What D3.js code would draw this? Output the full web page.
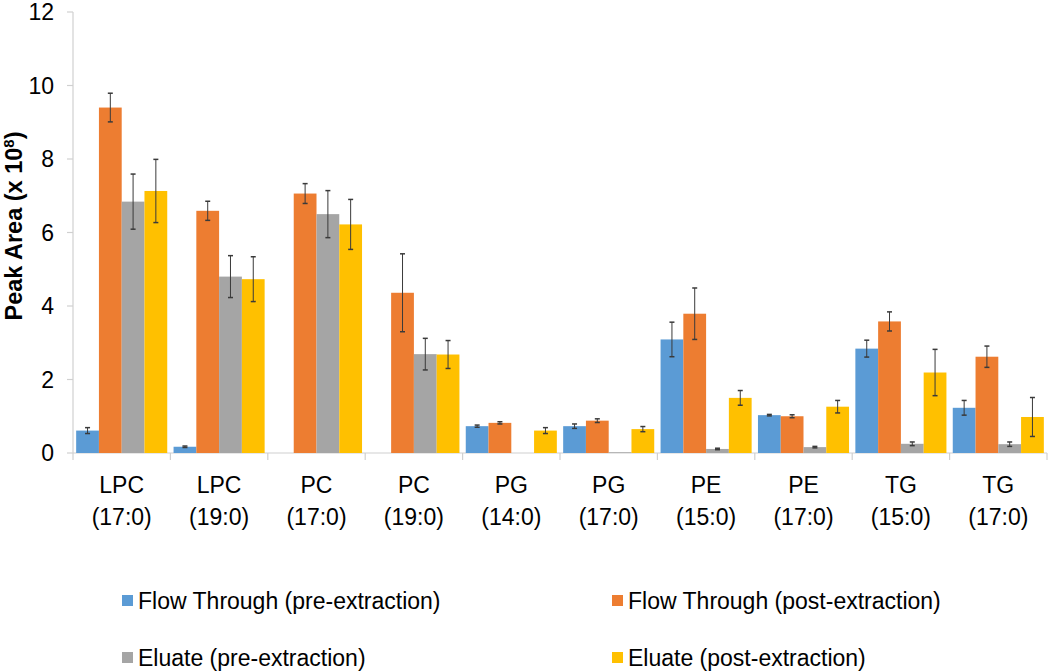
<!DOCTYPE html>
<html><head><meta charset="utf-8">
<script src="https://cdn.jsdelivr.net/npm/d3@7/dist/d3.min.js"></script>
<style>body{margin:0;background:#fff}svg{display:block}text{font-family:"Liberation Sans",Arial,sans-serif}</style>
</head><body><svg id="c" width="1050" height="672"></svg>
<script>
const categories = [["LPC","(17:0)"],["LPC","(19:0)"],["PC","(17:0)"],["PC","(19:0)"],["PG","(14:0)"],["PG","(17:0)"],["PE","(15:0)"],["PE","(17:0)"],["TG","(15:0)"],["TG","(17:0)"]];
const seriesNames = ["Flow Through (pre-extraction)","Flow Through (post-extraction)","Eluate (pre-extraction)","Eluate (post-extraction)"];
const seriesColors = ["#5B9BD5","#ED7D31","#A5A5A5","#FFC000"];
const flowPre    = [0.61,0.17,0,0,0.73,0.73,3.09,1.03,2.84,1.23];
const flowPreErr = [0.08,0.02,0,0,0.03,0.06,0.47,0.02,0.23,0.20];
const flowPost    = [9.40,6.59,7.06,4.36,0.82,0.88,3.79,1.00,3.58,2.62];
const flowPostErr = [0.39,0.26,0.27,1.06,0.03,0.05,0.70,0.04,0.26,0.29];
const eluPre    = [6.84,4.80,6.50,2.69,0,0.02,0.11,0.16,0.25,0.24];
const eluPreErr = [0.75,0.57,0.64,0.43,0,0,0.02,0.02,0.05,0.06];
const eluPost    = [7.13,4.73,6.22,2.68,0.61,0.65,1.50,1.26,2.19,0.98];
const eluPostErr = [0.86,0.61,0.68,0.38,0.08,0.07,0.20,0.17,0.63,0.53];
const yTicks = [0,2,4,6,8,10,12];

const values = [flowPre, flowPost, eluPre, eluPost];
const errors = [flowPreErr, flowPostErr, eluPreErr, eluPostErr];

const svg = d3.select("#c");
const x0 = d3.scaleBand().domain(d3.range(categories.length)).range([73,1047]).paddingInner(0).paddingOuter(0);
const inner = d3.scaleBand().domain(d3.range(4)).range([0, x0.bandwidth()]).paddingOuter(0.139).paddingInner(0);
const y = d3.scaleLinear().domain([0,12]).range([453,12]);
const axisCol = "#d0d0d0";

// y axis
svg.append("line").attr("x1",73).attr("x2",73).attr("y1",y(12)).attr("y2",y(0)).attr("stroke",axisCol).attr("stroke-width",1.2);
svg.selectAll(".yt").data(yTicks).enter().append("line")
  .attr("x1",67).attr("x2",73).attr("y1",d=>y(d)).attr("y2",d=>y(d)).attr("stroke",axisCol).attr("stroke-width",1.2);
svg.selectAll(".yl").data(yTicks).enter().append("text")
  .attr("x",54).attr("y",d=>y(d)+8).attr("text-anchor","end").attr("font-size",23).attr("fill","#000").text(d=>d);

// x axis
svg.append("line").attr("x1",73).attr("x2",1047).attr("y1",y(0)).attr("y2",y(0)).attr("stroke",axisCol).attr("stroke-width",1.2);
const bounds = d3.range(categories.length+1).map(i=> i<categories.length ? x0(i) : x0(categories.length-1)+x0.bandwidth());
svg.selectAll(".xt").data(bounds).enter().append("line")
  .attr("x1",d=>d).attr("x2",d=>d).attr("y1",y(0)).attr("y2",y(0)+7).attr("stroke",axisCol).attr("stroke-width",1.2);

// bars
categories.forEach((c,i)=>{
  const g = svg.append("g").attr("transform",`translate(${x0(i)},0)`);
  for(let s=0;s<4;s++){
    const v = values[s][i];
    g.append("rect").attr("x",inner(s)).attr("width",inner.bandwidth())
      .attr("y",y(v)).attr("height",y(0)-y(v)).attr("fill",seriesColors[s]);
  }
  for(let s=0;s<4;s++){
    const v = values[s][i], e = errors[s][i];
    if(v===0 || e===0) continue;
    const cx = inner(s)+inner.bandwidth()/2;
    const st = "#3a3a3a";
    g.append("line").attr("x1",cx).attr("x2",cx).attr("y1",y(v+e)).attr("y2",y(v-e)).attr("stroke",st).attr("stroke-width",1);
    g.append("line").attr("x1",cx-2.5).attr("x2",cx+2.5).attr("y1",y(v+e)).attr("y2",y(v+e)).attr("stroke",st).attr("stroke-width",1.5);
    g.append("line").attr("x1",cx-2.5).attr("x2",cx+2.5).attr("y1",y(v-e)).attr("y2",y(v-e)).attr("stroke",st).attr("stroke-width",1.5);
  }
  const cxg = x0(i)+x0.bandwidth()/2;
  svg.append("text").attr("x",cxg).attr("y",493).attr("text-anchor","middle").attr("font-size",23).text(c[0]);
  svg.append("text").attr("x",cxg).attr("y",525).attr("text-anchor","middle").attr("font-size",23).text(c[1]);
});

// y title
const yt = svg.append("text").attr("transform","translate(22,226) rotate(-90)").attr("text-anchor","middle")
  .attr("font-size",23.5).attr("font-weight","bold");
yt.append("tspan").text("Peak Area (x 10");
yt.append("tspan").attr("baseline-shift","super").attr("font-size",15).text("8");
yt.append("tspan").text(")");

// legend
const legPos = [[122,595],[612,595],[122,652],[612,652]];
seriesNames.forEach((n,s)=>{
  const [lx,ly] = legPos[s];
  svg.append("rect").attr("x",lx).attr("y",ly).attr("width",11).attr("height",11).attr("fill",seriesColors[s]);
  svg.append("text").attr("x",lx+16).attr("y",ly+14).attr("font-size",23).text(n);
});
</script></body></html>
